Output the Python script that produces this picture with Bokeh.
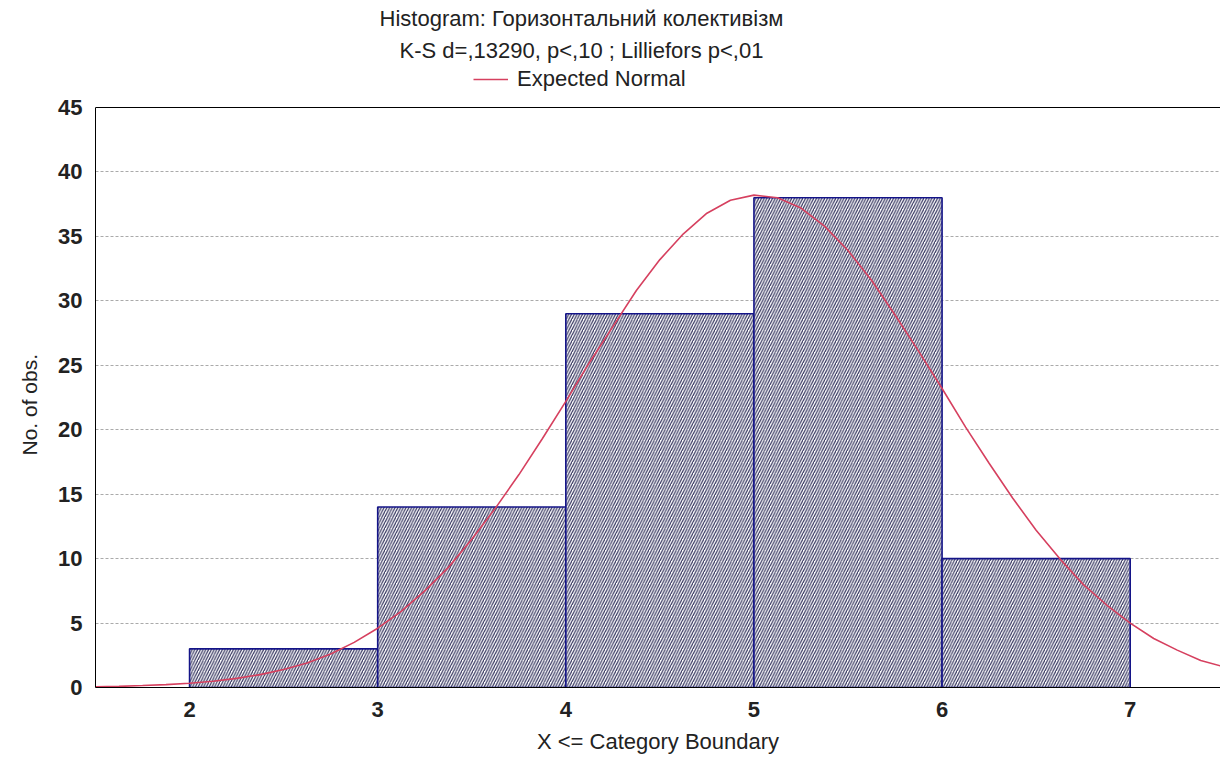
from bokeh.plotting import figure
from bokeh.models import FixedTicker, Label, Legend, LegendItem, Range1d, ColumnDataSource, Span, Title
from bokeh.embed import file_html
from bokeh.resources import INLINE

# ---- data ----
bin_left = [2, 3, 4, 5, 6]
bin_right = [3, 4, 5, 6, 7]
counts = [3, 14, 29, 38, 10]

normal_x = [1.5, 1.625, 1.75, 1.875, 2.0, 2.125, 2.25, 2.375, 2.5, 2.625, 2.75, 2.875,
            3.0, 3.125, 3.25, 3.375, 3.5, 3.625, 3.75, 3.875, 4.0, 4.125, 4.25, 4.375,
            4.5, 4.625, 4.75, 4.875, 5.0, 5.125, 5.25, 5.375, 5.5, 5.625, 5.75, 5.875,
            6.0, 6.125, 6.25, 6.375, 6.5, 6.625, 6.75, 6.875, 7.0, 7.125, 7.25, 7.375, 7.5]
normal_y = [0.06, 0.09, 0.15, 0.22, 0.33, 0.49, 0.71, 1.0, 1.4, 1.9, 2.6, 3.5,
            4.6, 5.9, 7.5, 9.3, 11.5, 13.9, 16.5, 19.3, 22.2, 25.2, 28.0, 30.8,
            33.2, 35.2, 36.8, 37.8, 38.2, 38.0, 37.2, 35.8, 33.9, 31.6, 28.9, 26.1,
            23.2, 20.2, 17.4, 14.7, 12.2, 10.0, 8.0, 6.4, 5.0, 3.8, 2.9, 2.1, 1.6]

title_line1 = "Histogram: Горизонтальний колективізм"
title_line2 = "K-S d=,13290, p<,10 ; Lilliefors p<,01"
legend_label = "Expected Normal"
x_axis_label = "X <= Category Boundary"
y_axis_label = "No. of obs."
x_ticks = [2, 3, 4, 5, 6, 7]
y_ticks = [0, 5, 10, 15, 20, 25, 30, 35, 40, 45]
y_max = 45

FONT = "Liberation Sans"
TXT = "#222222"

# frame spans the whole height above the x axis; the header lives inside it
FRAME_H = 687
y_top = y_max * FRAME_H / 580.0

p = figure(width=1220, height=761, output_backend="svg", toolbar_location=None,
           x_range=Range1d(1.5, 7.48), y_range=Range1d(0, y_top),
           min_border_left=95, min_border_right=0, min_border_top=0, min_border_bottom=74)
p.title.visible = False
p.outline_line_color = None
p.background_fill_color = "white"
p.border_fill_color = "white"

# grid
p.xgrid.visible = False
p.ygrid.ticker = FixedTicker(ticks=y_ticks)
p.ygrid.grid_line_color = "#aaaaaa"
p.ygrid.grid_line_dash = "3 2"
p.ygrid.grid_line_width = 1

# axes
for ax in (p.xaxis[0], p.yaxis[0]):
    ax.axis_line_color = "black"
    ax.major_tick_out = 0
    ax.major_tick_in = 0
    ax.minor_tick_out = 0
    ax.minor_tick_in = 0
    ax.major_label_text_font = FONT
    ax.major_label_text_font_size = "22px"
    ax.major_label_text_font_style = "bold"
    ax.major_label_text_color = TXT
    ax.axis_label_text_font = FONT
    ax.axis_label_text_font_style = "normal"
    ax.axis_label_text_color = TXT

p.xaxis.ticker = FixedTicker(ticks=x_ticks)
p.yaxis.ticker = FixedTicker(ticks=y_ticks)
p.yaxis.bounds = (0, y_max)
p.xaxis.axis_label = x_axis_label
p.xaxis.axis_label_text_font_size = "22px"
p.xaxis.major_label_standoff = 14
p.xaxis.axis_label_standoff = 9
p.yaxis.major_label_standoff = 13

# y axis title, centred on the 0..45 part of the axis
p.add_layout(Title(text=y_axis_label, align="left", offset=232, text_font=FONT,
                   text_font_size="21px", text_font_style="normal", text_color=TXT,
                   standoff=29), "left")

# top border of the plotting box
p.add_layout(Span(location=y_max, dimension="width", line_color="black", line_width=1))

# bars
src = ColumnDataSource(dict(left=bin_left, right=bin_right, top=counts, bottom=[0] * len(counts)))
p.quad(left="left", right="right", top="top", bottom="bottom", source=src,
       fill_color="white", line_color="#141488", line_width=1.6,
       hatch_pattern="/", hatch_color="#34345e", hatch_scale=5.5, hatch_weight=1.2)

# expected normal
line_r = p.line(normal_x, normal_y, line_color="#d6405f", line_width=1.6)

legend = Legend(items=[LegendItem(label=legend_label, renderers=[line_r])],
                location=(378, FRAME_H - 92), background_fill_alpha=0, border_line_alpha=0,
                padding=0, margin=0, spacing=0, glyph_width=35, glyph_height=22,
                label_height=22, label_standoff=9, label_text_font=FONT,
                label_text_font_size="22px", label_text_color=TXT,
                label_text_baseline="middle")
p.add_layout(legend)

for txt, cy in ((title_line1, 18), (title_line2, 50)):
    p.add_layout(Label(x=486, y=FRAME_H - cy, x_units="screen", y_units="screen", text=txt,
                       text_align="center", text_baseline="middle", text_font=FONT,
                       text_font_size="22px", text_color=TXT))

open("out.html", "w").write(file_html(p, INLINE))
